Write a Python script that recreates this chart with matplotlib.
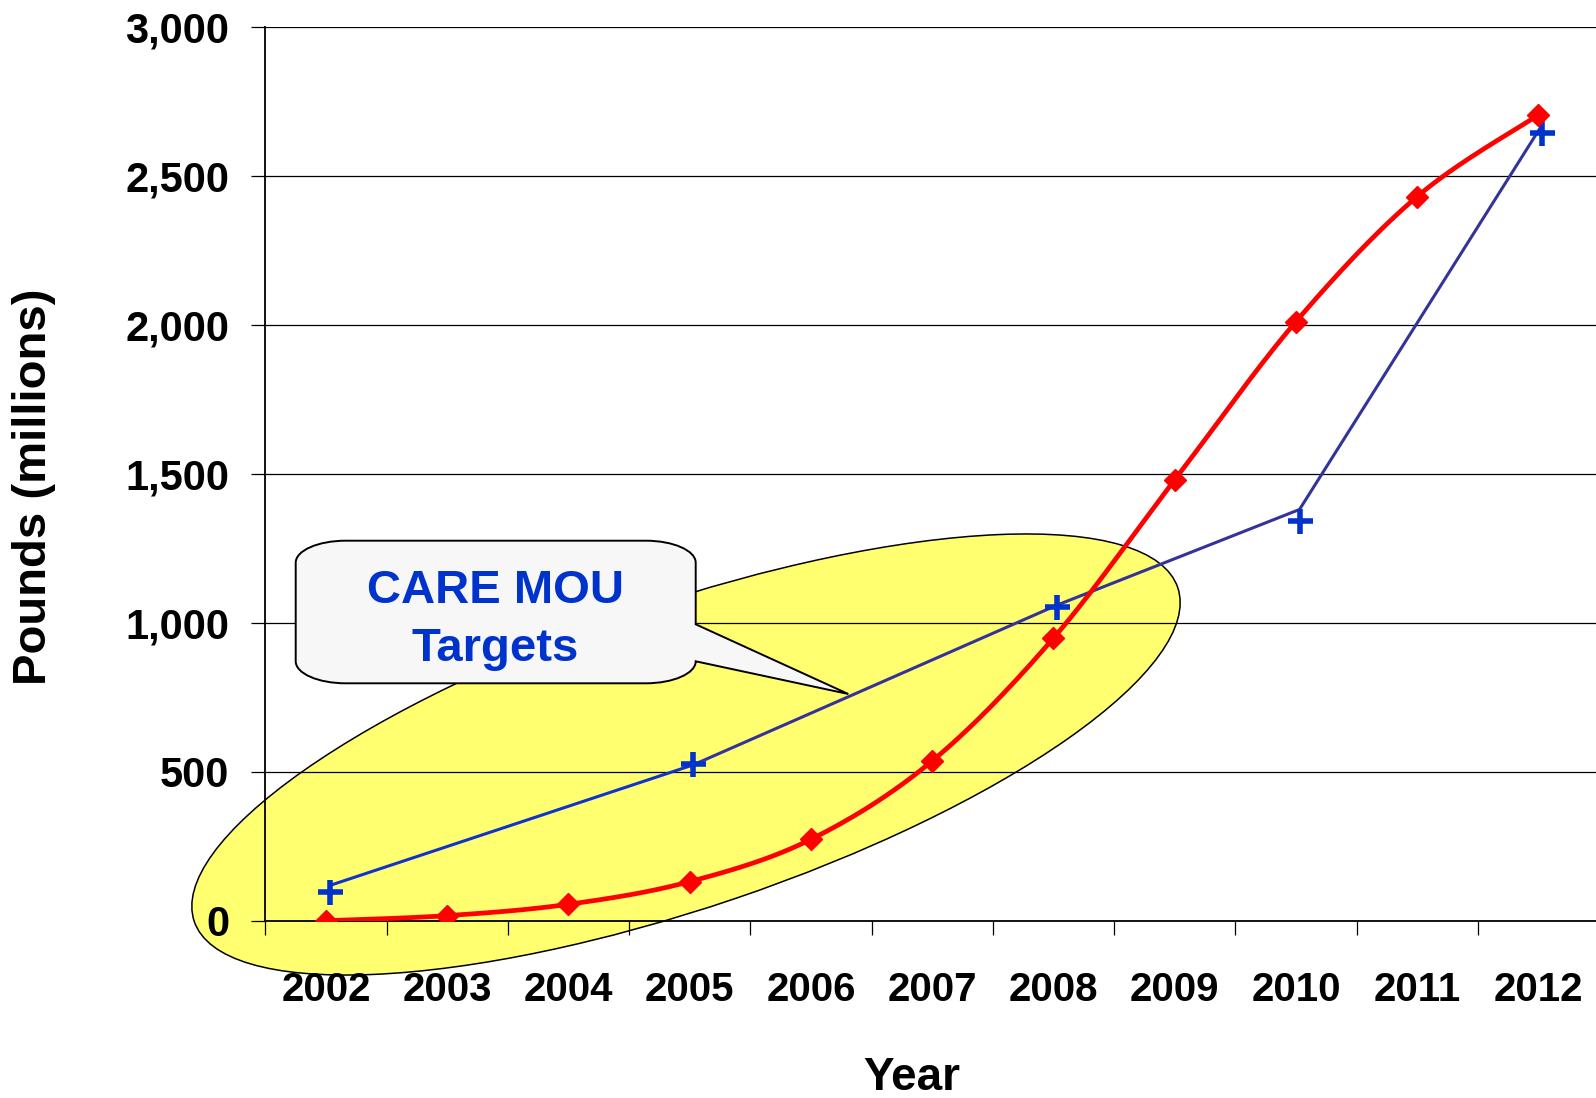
import numpy as np
import matplotlib
matplotlib.use("Agg")
import matplotlib.pyplot as plt
from matplotlib.patches import Ellipse, PathPatch
from matplotlib.path import Path

# data
years = ['2002', '2003', '2004', '2005', '2006', '2007', '2008', '2009', '2010', '2011', '2012']
actual = [0, 17, 55, 131, 273, 536, 948, 1479, 2010, 2430, 2704]

target_years = ['2002', '2005', '2008', '2010', '2012']
target_marks = [97, 527, 1054, 1342, 2642]
target_line = [118, 523, 1059, 1380, 2670]

yticks = [0, 500, 1000, 1500, 2000, 2500, 3000]

plt.rcParams['font.family'] = ['Liberation Sans', 'DejaVu Sans']
plt.rcParams['font.weight'] = 'bold'

W, H = 1596, 1098
fig = plt.figure(figsize=(W / 100, H / 100), dpi=100)
ax = fig.add_axes([265.3 / W, 1 - 920.7 / H, (1599 - 265.3) / W, (920.7 - 26.7) / H])


def px(x, y):
    # pixel (from top-left) -> inches for dpi_scale_trans
    return (x / 100.0, (H - y) / 100.0)


def smooth(xs, ys, n=30):
    # catmull-rom through the points, like Excel's smoothed line
    xs = np.asarray(xs, float)
    ys = np.asarray(ys, float)
    P = np.column_stack([xs, ys])
    P = np.vstack([P[0], P, P[-1]])
    out = []
    for i in range(1, len(P) - 2):
        p0, p1, p2, p3 = P[i - 1], P[i], P[i + 1], P[i + 2]
        c1 = p1 + (p2 - p0) / 6.0
        c2 = p2 - (p3 - p1) / 6.0
        t = np.linspace(0, 1, n)[:, None]
        seg = (1 - t) ** 3 * p1 + 3 * (1 - t) ** 2 * t * c1 + 3 * (1 - t) * t ** 2 * c2 + t ** 3 * p2
        out.append(seg if i == 1 else seg[1:])
    out = np.vstack(out)
    return out[:, 0], out[:, 1]


xpos = np.arange(len(years)) + 0.5
tx = np.array([years.index(y) for y in target_years]) + 0.53

# highlight ellipse
ell = Ellipse(px(686, 754.5), 10.386, 3.044, angle=18.75, transform=fig.dpi_scale_trans,
              facecolor='#FFFF70', edgecolor='black', linewidth=1.1, zorder=0.2, clip_on=False)
ax.add_patch(ell)

# callout box
L, R, T, B, rx, ry = 295.7, 695.7, 540.7, 683.3, 50, 22
k = 0.5523
pts = [
    (L + rx, T), (R - rx, T),
    (R - rx + k * rx, T), (R, T + ry - k * ry), (R, T + ry),
    (R, 624.3), (848.3, 694), (R, B - ry),
    (R, B - ry + k * ry), (R - rx + k * rx, B), (R - rx, B),
    (L + rx, B),
    (L + rx - k * rx, B), (L, B - ry + k * ry), (L, B - ry),
    (L, T + ry),
    (L, T + ry - k * ry), (L + rx - k * rx, T), (L + rx, T),
]
codes = [Path.MOVETO, Path.LINETO,
         Path.CURVE4, Path.CURVE4, Path.CURVE4,
         Path.LINETO, Path.LINETO, Path.LINETO,
         Path.CURVE4, Path.CURVE4, Path.CURVE4,
         Path.LINETO,
         Path.CURVE4, Path.CURVE4, Path.CURVE4,
         Path.LINETO,
         Path.CURVE4, Path.CURVE4, Path.CURVE4]
verts = [px(a, b) for a, b in pts]
box = PathPatch(Path(verts, codes), transform=fig.dpi_scale_trans, facecolor='#F7F7F7',
                edgecolor='black', linewidth=1.4, zorder=5, clip_on=False)
ax.add_patch(box)
fig.text(*px(495.5, 603), 'CARE MOU', transform=fig.dpi_scale_trans, ha='center', va='baseline',
         fontsize=34, fontweight='bold', color='#0033CC', zorder=6)
fig.text(*px(495.5, 660.7), 'Targets', transform=fig.dpi_scale_trans, ha='center', va='baseline',
         fontsize=34, fontweight='bold', color='#0033CC', zorder=6)

# target line (blue first leg, navy after)
ax.plot(tx[:2], target_line[:2], color='#1133CC', lw=2.2, zorder=3, solid_capstyle='butt')
ax.plot(tx[1:], target_line[1:], color='#333399', lw=2.2, zorder=3, solid_capstyle='butt')
ax.plot(tx, target_marks, ls='none', marker='+', ms=18, mew=4.0, color='#0033CC', zorder=3.5)

# actual values, smoothed
sx, sy = smooth(xpos, actual)
ax.plot(sx, sy, color='#FF0000', lw=3.4, zorder=4)
ax.plot(xpos, actual, ls='none', marker='D', ms=11.5, color='#FF0000', mec='#FF0000', zorder=4.5)

ax.set_xlim(0, len(years))
ax.set_ylim(0, 3000)
ax.set_axisbelow(True)
ax.yaxis.grid(True, color='black', lw=0.9)

ax.set_yticks(yticks)
ax.set_yticklabels([f'{v:,}' for v in yticks], fontsize=30, fontweight='bold')
ax.tick_params(axis='y', length=10, width=0.9, pad=15.8, color='black')

ax.set_xticks(np.arange(len(years) + 1))
ax.set_xticklabels([])
ax.set_xticks(xpos, minor=True)
ax.set_xticklabels(years, minor=True, fontsize=29, fontweight='bold')
ax.tick_params(axis='x', which='major', length=10, width=0.9, color='black')
ax.tick_params(axis='x', which='minor', length=0, pad=36)

for s in ['top', 'right']:
    ax.spines[s].set_visible(False)
for s in ['left', 'bottom']:
    ax.spines[s].set_linewidth(1.3)
    ax.spines[s].set_color('black')

fig.text(*px(912, 1090), 'Year', transform=fig.dpi_scale_trans, ha='center', va='baseline',
         fontsize=33, fontweight='bold')
fig.text(*px(34, 486.5), 'Pounds (millions)', transform=fig.dpi_scale_trans, ha='center', va='center',
         rotation=90, fontsize=34, fontweight='bold')

fig.savefig('out.png', dpi=100)
